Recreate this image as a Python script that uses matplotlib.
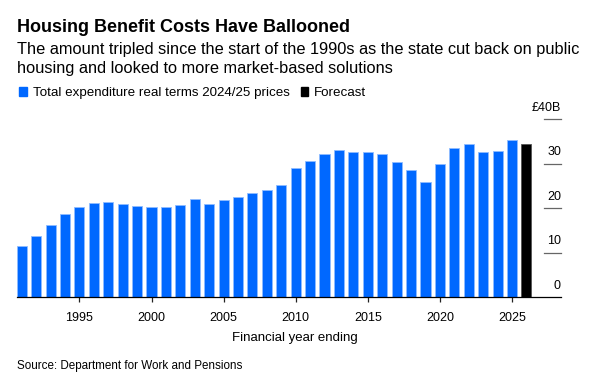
import matplotlib
matplotlib.use("Agg")
import matplotlib.pyplot as plt
from matplotlib.patches import Rectangle

plt.rcParams['font.family'] = ['Liberation Sans', 'DejaVu Sans']

# Housing benefit expenditure, £bn, real terms 2024/25 prices (financial year ending)
years = list(range(1991, 2026))
spend = [11.6, 13.7, 16.3, 18.7, 20.2, 21.1, 21.3, 20.9, 20.5, 20.2,
         20.2, 20.6, 22.0, 20.9, 21.8, 22.4, 23.3, 24.1, 25.2, 29.1,
         30.6, 32.1, 33.0, 32.7, 32.5, 32.2, 30.4, 28.5, 25.9, 29.8,
         33.6, 34.4, 32.5, 32.8, 35.2]
forecast_year = [2026]
forecast = [34.4]

xticks = [1995, 2000, 2005, 2010, 2015, 2020, 2025]
yticks = [0, 10, 20, 30, 40]
ylabels = ['0', '10', '20', '30', '£40B']

blue = '#0068ff'
W, H = 591, 383

fig = plt.figure(figsize=(W / 100, H / 100), dpi=100)
ax = fig.add_axes([16.7 / W, 1 - 297.3 / H, (561 - 16.7) / W, (297.3 - 119) / H])

ax.bar(years, spend, width=0.7, color=blue, edgecolor='#8fbcff', linewidth=0.6)
ax.bar(forecast_year, forecast, width=0.7, color='black', edgecolor='#555555', linewidth=0.6)

ax.set_xlim(1990.65, 2028.4)
ax.set_ylim(0, 40)

for s in ['top', 'right', 'left']:
    ax.spines[s].set_visible(False)
ax.spines['bottom'].set_linewidth(0.9)
ax.spines['bottom'].set_color('black')

ax.set_xticks(xticks)
ax.set_xticklabels([str(x) for x in xticks], fontsize=9)
ax.tick_params(axis='x', length=3.8, width=0.9, pad=6.5, color='#222222')
ax.set_yticks([])

# y-axis: short marks on the right with labels sitting above them
trans = ax.get_yaxis_transform()
x0 = (544 - 16.7) / (561 - 16.7)
for v, lab in zip(yticks, ylabels):
    if v > 0:
        ax.plot([x0, 1.0], [v, v], transform=trans, color='#666666', lw=0.9, clip_on=False)
    ax.text(1.0, v + 1.9, lab, transform=trans, ha='right', va='baseline', fontsize=9, clip_on=False)

fig.text(295 / W, 1 - 340.7 / H, 'Financial year ending', ha='center', va='baseline', fontsize=9.5)

# header
fig.text(17 / W, 1 - 31.7 / H, 'Housing Benefit Costs Have Ballooned',
         fontsize=13.0, fontweight='bold', va='baseline')
fig.text(17 / W, 1 - 54.3 / H, 'The amount tripled since the start of the 1990s as the state cut back on public',
         fontsize=11.8, va='baseline')
fig.text(17 / W, 1 - 72.7 / H, 'housing and looked to more market-based solutions',
         fontsize=11.8, va='baseline')

# legend
fig.patches.append(Rectangle((19.3 / W, 1 - 95.7 / H), 8 / W, 8.4 / H, transform=fig.transFigure,
                             color=blue, figure=fig))
fig.text(33.3 / W, 1 - 95.7 / H, 'Total expenditure real terms 2024/25 prices', fontsize=9.6, va='baseline')
fig.patches.append(Rectangle((300.7 / W, 1 - 95.7 / H), 7.6 / W, 8.4 / H, transform=fig.transFigure,
                             color='black', figure=fig))
fig.text(314 / W, 1 - 95.7 / H, 'Forecast', fontsize=9.6, va='baseline')

fig.text(17 / W, 1 - 369 / H, 'Source: Department for Work and Pensions', fontsize=8.4, va='baseline')

fig.savefig('out.png', dpi=100)
